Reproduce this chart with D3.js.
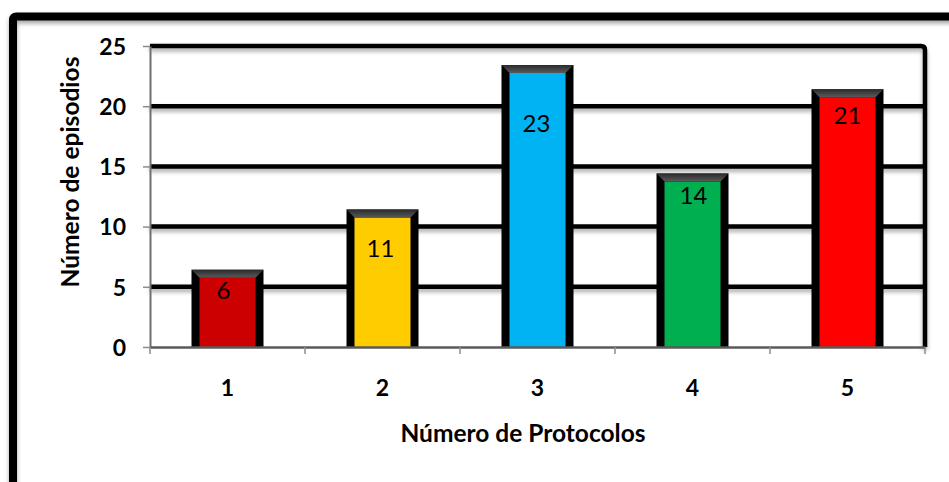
<!DOCTYPE html>
<html>
<head>
<meta charset="utf-8">
<script src="https://cdn.jsdelivr.net/npm/d3@7/dist/d3.min.js"></script>
<style>
  html, body { margin: 0; padding: 0; background: #fff; }
  svg { display: block; }
  text { font-family: Lato, "Open Sans", sans-serif; fill: #000; }
</style>
</head>
<body>
<svg id="chart" width="949" height="482"></svg>
<script>
// Episodes recorded per number of protocols
const categories = ["1", "2", "3", "4", "5"];
const episodes = [6, 11, 23, 14, 21];
const barColors = ["#CC0000", "#FFCC00", "#00B4F4", "#00B050", "#FF0000"];
const yTicks = [0, 5, 10, 15, 20, 25];
const xTitle = "Número de Protocolos";
const yTitle = "Número de episodios";

// Value labels sit inside each bar; nudges (px) keep them where the author put them
const labelNudge = [[-4, 15], [-2, 33], [-1, 52], [1, 16], [0, 20]];

const plot = { left: 150, right: 925, top: 46, bottom: 347 };

const svg = d3.select("#chart");
const defs = svg.append("defs");

// Soft shadow used under the outer frame and the grid lines
const shadow = defs.append("filter").attr("id", "softShadow")
  .attr("x", "-5%").attr("y", "-50%").attr("width", "110%").attr("height", "300%");
shadow.append("feDropShadow").attr("dx", 0).attr("dy", 3).attr("stdDeviation", 2.2)
  .attr("flood-color", "#000").attr("flood-opacity", 0.35);

// Bevel gradient for the top cap of each bar
const cap = defs.append("linearGradient").attr("id", "capGrad")
  .attr("x1", 0).attr("y1", 0).attr("x2", 0).attr("y2", 1);
cap.append("stop").attr("offset", "0%").attr("stop-color", "#2a2a2a");
cap.append("stop").attr("offset", "100%").attr("stop-color", "#5a5a5a");

// Outer frame of the chart area
svg.append("rect")
  .attr("x", 13).attr("y", 16.5).attr("width", 980).attr("height", 520)
  .attr("rx", 3)
  .attr("fill", "none").attr("stroke", "#000").attr("stroke-width", 8)
  .attr("filter", "url(#softShadow)");

const x = d3.scaleBand().domain(categories).range([plot.left, plot.right]).padding(0);
const y = d3.scaleLinear().domain([0, 25]).range([plot.bottom, plot.top]);

// Horizontal grid lines (thick, with a drop shadow)
const grid = svg.append("g").attr("filter", "url(#softShadow)");
grid.selectAll("line.grid")
  .data(yTicks.filter(t => t > 0 && t < 25))
  .join("line")
  .attr("class", "grid")
  .attr("x1", plot.left).attr("x2", plot.right)
  .attr("y1", d => y(d)).attr("y2", d => y(d))
  .attr("stroke", "#000").attr("stroke-width", 4.5);

// Top line at the maximum joins the right border of the plot area
grid.append("path")
  .attr("d", `M${plot.left},${y(25)} H${plot.right - 4} Q${plot.right},${y(25)} ${plot.right},${y(25) + 4} V${y(0)}`)
  .attr("fill", "none").attr("stroke", "#000").attr("stroke-width", 4.5);

// Bars: coloured fill, heavy black sides and top, bevelled cap
const barW = 64, border = 8;
const bars = svg.append("g").selectAll("g.bar")
  .data(episodes.map((v, i) => ({ cat: categories[i], v, color: barColors[i], i })))
  .join("g").attr("class", "bar");

const bx = d => x(d.cat) + x.bandwidth() / 2 - barW / 2;
const btop = d => y(d.v) - 1;

bars.append("rect")
  .attr("x", bx)
  .attr("y", btop)
  .attr("width", barW)
  .attr("height", d => y(0) - btop(d))
  .attr("fill", d => d.color);

bars.append("path")
  .attr("d", d => `M${bx(d)},${y(0)} V${btop(d)} H${bx(d) + barW} V${y(0)}`)
  .attr("fill", "none")
  .attr("stroke", "#000").attr("stroke-width", border)
  .attr("stroke-linejoin", "miter");

bars.append("path")
  .attr("d", d => {
    const x0 = bx(d), x1 = x0 + barW;
    const t = btop(d) - border / 2;
    return `M${x0 - border / 2},${t} H${x1 + border / 2} L${x1 - border / 2},${t + border} H${x0 + border / 2} Z`;
  })
  .attr("fill", "url(#capGrad)");

bars.append("text")
  .attr("x", d => x(d.cat) + x.bandwidth() / 2 + labelNudge[d.i][0])
  .attr("y", d => y(d.v) + labelNudge[d.i][1])
  .attr("text-anchor", "middle")
  .attr("dominant-baseline", "central")
  .style("font-size", "24px")
  .text(d => d.v);

// Y axis
const yAxis = svg.append("g")
  .attr("transform", `translate(${plot.left},0)`)
  .call(d3.axisLeft(y).tickValues(yTicks).tickSize(7).tickPadding(17).tickSizeOuter(0));
yAxis.select(".domain").attr("stroke", "#6f6f6f").attr("stroke-width", 2);
yAxis.selectAll(".tick line").attr("stroke", "#8c8c8c").attr("stroke-width", 1.5);
yAxis.selectAll(".tick text")
  .style("font-size", "23px").style("font-weight", "bold")
  .attr("dy", "0.36em");

// X axis: labels centred, tick marks between categories
const xAxis = svg.append("g")
  .attr("transform", `translate(0,${plot.bottom})`)
  .call(d3.axisBottom(x).tickSize(0).tickPadding(33).tickSizeOuter(0));
xAxis.select(".domain").attr("stroke", "#5a5a5a").attr("stroke-width", 2.5);
xAxis.selectAll(".tick text")
  .style("font-size", "23px").style("font-weight", "bold");

xAxis.selectAll("line.sep")
  .data(categories.map(c => x(c)).concat([plot.right]))
  .join("line").attr("class", "sep")
  .attr("x1", d => d).attr("x2", d => d)
  .attr("y1", 0).attr("y2", 7)
  .attr("stroke", "#8c8c8c").attr("stroke-width", 1.5);

// Axis titles
svg.append("text")
  .attr("x", 523).attr("y", 442)
  .attr("text-anchor", "middle")
  .style("font-size", "24.5px").style("font-weight", "bold")
  .text(xTitle);

svg.append("text")
  .attr("transform", "translate(79,172) rotate(-90)")
  .attr("text-anchor", "middle")
  .style("font-size", "24.5px").style("font-weight", "bold")
  .text(yTitle);
</script>
</body>
</html>
